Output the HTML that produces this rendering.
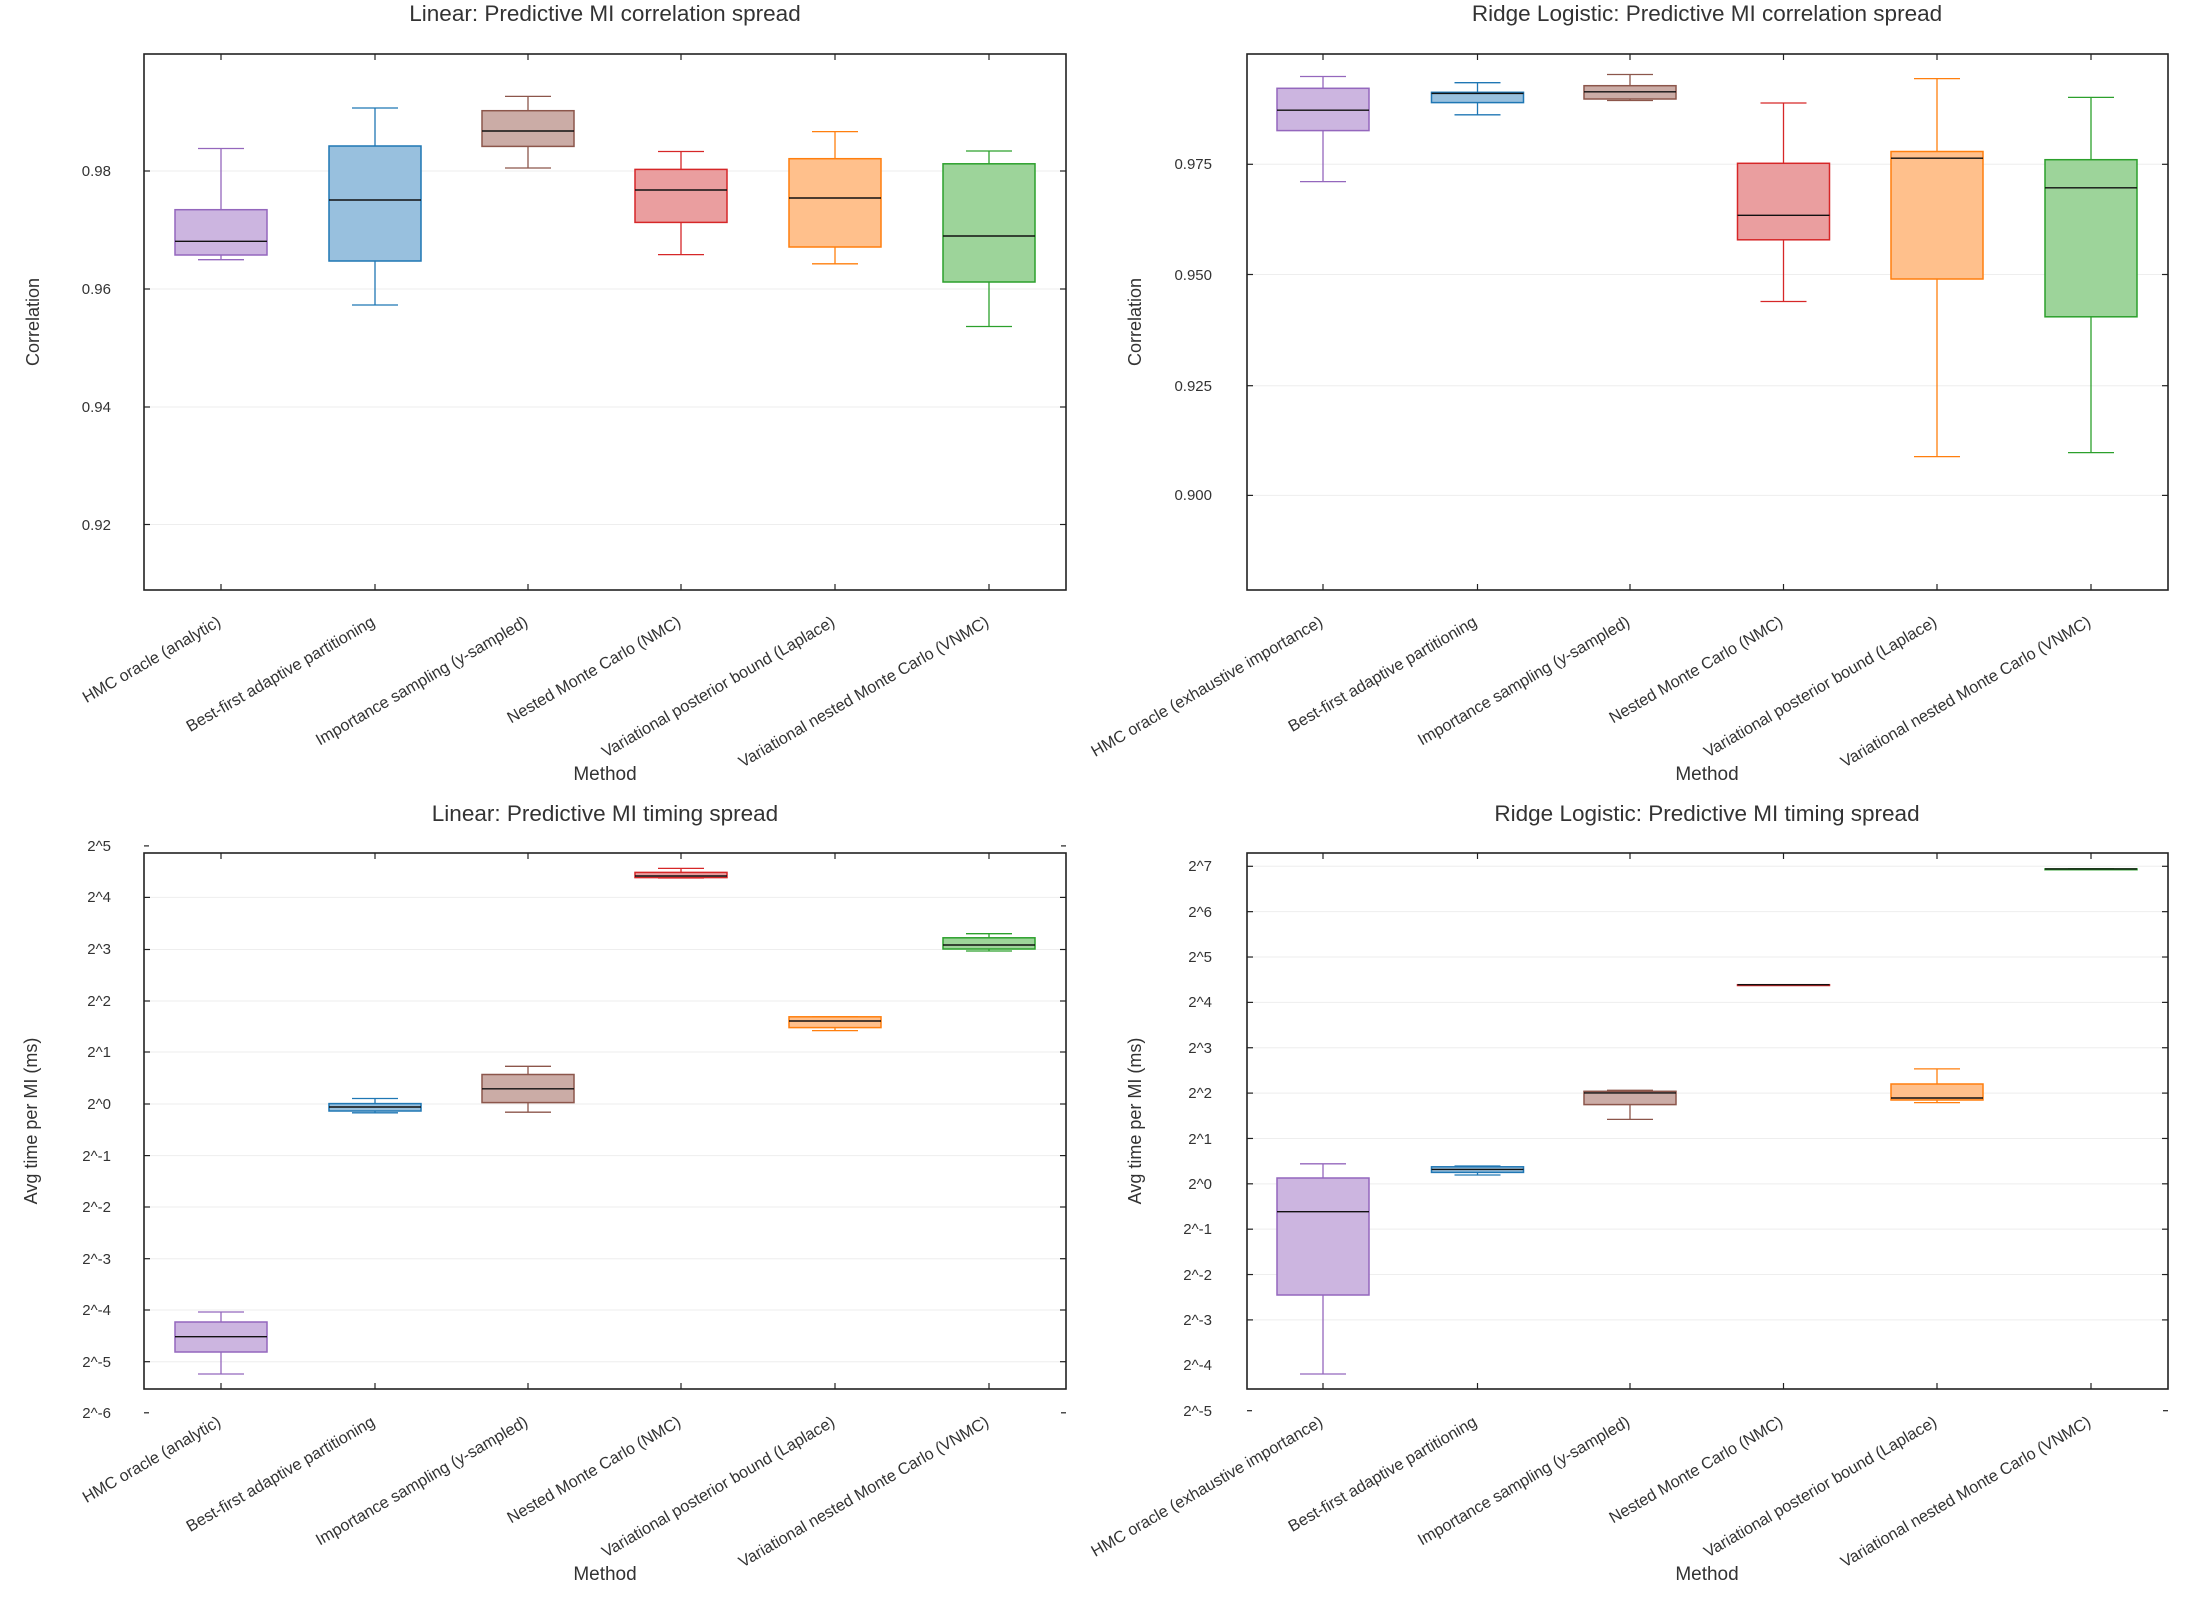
<!DOCTYPE html>
<html><head><meta charset="utf-8"><style>
html,body{margin:0;padding:0;background:#fff;}
svg{display:block;}
text{font-family:"Liberation Sans",sans-serif;fill:#333;}
</style></head><body>
<svg id="s" width="2200" height="1600" xmlns="http://www.w3.org/2000/svg">
<g id="g"></g>
<text x="605" y="21" font-size="22.5" text-anchor="middle">Linear: Predictive MI correlation spread</text>
<text x="1707" y="21" font-size="22.5" text-anchor="middle">Ridge Logistic: Predictive MI correlation spread</text>
<text x="605" y="821" font-size="22.5" text-anchor="middle">Linear: Predictive MI timing spread</text>
<text x="1707" y="821" font-size="22.5" text-anchor="middle">Ridge Logistic: Predictive MI timing spread</text>
<text x="605" y="780" font-size="19" text-anchor="middle">Method</text>
<text x="1707" y="780" font-size="19" text-anchor="middle">Method</text>
<text x="605" y="1580" font-size="19" text-anchor="middle">Method</text>
<text x="1707" y="1580" font-size="19" text-anchor="middle">Method</text>
<text transform="translate(39,322) rotate(-90)" font-size="18" text-anchor="middle">Correlation</text>
<text transform="translate(1141,322) rotate(-90)" font-size="18" text-anchor="middle">Correlation</text>
<text transform="translate(37,1121) rotate(-90)" font-size="18" text-anchor="middle">Avg time per MI (ms)</text>
<text transform="translate(1141,1121) rotate(-90)" font-size="18" text-anchor="middle">Avg time per MI (ms)</text>
<g font-size="15" text-anchor="end">
<text x="111" y="176">0.98</text><text x="111" y="294">0.96</text><text x="111" y="412">0.94</text><text x="111" y="530">0.92</text>
<text x="1212" y="169">0.975</text><text x="1212" y="280">0.950</text><text x="1212" y="391">0.925</text><text x="1212" y="500">0.900</text>
<text x="111" y="851">2^5</text><text x="111" y="902">2^4</text><text x="111" y="954">2^3</text><text x="111" y="1006">2^2</text><text x="111" y="1057">2^1</text><text x="111" y="1109">2^0</text><text x="111" y="1161">2^-1</text><text x="111" y="1212">2^-2</text><text x="111" y="1264">2^-3</text><text x="111" y="1315">2^-4</text><text x="111" y="1367">2^-5</text><text x="111" y="1418">2^-6</text>
<text x="1212" y="871">2^7</text><text x="1212" y="917">2^6</text><text x="1212" y="962">2^5</text><text x="1212" y="1007">2^4</text><text x="1212" y="1053">2^3</text><text x="1212" y="1098">2^2</text><text x="1212" y="1144">2^1</text><text x="1212" y="1189">2^0</text><text x="1212" y="1234">2^-1</text><text x="1212" y="1280">2^-2</text><text x="1212" y="1325">2^-3</text><text x="1212" y="1370">2^-4</text><text x="1212" y="1416">2^-5</text>
</g>
<g font-size="16.3" text-anchor="end">
<text transform="translate(222,625) rotate(-30)">HMC oracle (analytic)</text>
<text transform="translate(376,625) rotate(-30)">Best-first adaptive partitioning</text>
<text transform="translate(529,625) rotate(-30)">Importance sampling (y-sampled)</text>
<text transform="translate(682,625) rotate(-30)">Nested Monte Carlo (NMC)</text>
<text transform="translate(836,625) rotate(-30)">Variational posterior bound (Laplace)</text>
<text transform="translate(990,625) rotate(-30)">Variational nested Monte Carlo (VNMC)</text>
<text transform="translate(1324,625) rotate(-30)">HMC oracle (exhaustive importance)</text>
<text transform="translate(1478,625) rotate(-30)">Best-first adaptive partitioning</text>
<text transform="translate(1631,625) rotate(-30)">Importance sampling (y-sampled)</text>
<text transform="translate(1784,625) rotate(-30)">Nested Monte Carlo (NMC)</text>
<text transform="translate(1938,625) rotate(-30)">Variational posterior bound (Laplace)</text>
<text transform="translate(2092,625) rotate(-30)">Variational nested Monte Carlo (VNMC)</text>
<text transform="translate(222,1425) rotate(-30)">HMC oracle (analytic)</text>
<text transform="translate(376,1425) rotate(-30)">Best-first adaptive partitioning</text>
<text transform="translate(529,1425) rotate(-30)">Importance sampling (y-sampled)</text>
<text transform="translate(682,1425) rotate(-30)">Nested Monte Carlo (NMC)</text>
<text transform="translate(836,1425) rotate(-30)">Variational posterior bound (Laplace)</text>
<text transform="translate(990,1425) rotate(-30)">Variational nested Monte Carlo (VNMC)</text>
<text transform="translate(1324,1425) rotate(-30)">HMC oracle (exhaustive importance)</text>
<text transform="translate(1478,1425) rotate(-30)">Best-first adaptive partitioning</text>
<text transform="translate(1631,1425) rotate(-30)">Importance sampling (y-sampled)</text>
<text transform="translate(1784,1425) rotate(-30)">Nested Monte Carlo (NMC)</text>
<text transform="translate(1938,1425) rotate(-30)">Variational posterior bound (Laplace)</text>
<text transform="translate(2092,1425) rotate(-30)">Variational nested Monte Carlo (VNMC)</text>
</g>
</svg>
<script>
(function(){
var g=document.getElementById('g'),NS='http://www.w3.org/2000/svg';
function el(t,a){var e=document.createElementNS(NS,t);for(var k in a)e.setAttribute(k,a[k]);g.appendChild(e);return e;}
var C=[['#9467bd','#ccb5e0'],['#1f77b4','#98c0de'],['#8c564b','#cbaca6'],['#d62728','#ea9e9f'],['#ff7f0e','#ffc08c'],['#2ca02c','#9dd49a']];
var cL=[221,375,528,681,835,989],cR=[1323,1477.5,1630,1783.5,1937,2091];
var br=[];for(var k=0;k<11;k++)br.push(866.3+k*45.36);
var P=[
{x0:144,x1:1066,y0:54,y1:590,c:cL,gr:[171,289,407,524.5],out:[],
 b:[[148.5,209.7,241.3,255,259.7],[108,146,200,261,305],[96.4,110.7,131,146.4,168],[151.5,169.4,190,222.4,254.6],[131.6,158.7,198,247,263.8],[151,163.8,236,282,326.5]]},
{x0:1247,x1:2168,y0:54,y1:590,c:cR,gr:[164.3,274.5,385.7,495.4],out:[],
 b:[[76.5,88.3,110.2,130.6,181.6],[82.7,92.3,93.4,102.6,114.8],[74.5,85.7,91.8,99,100.5],[103,163.3,215.3,239.8,301.5],[78.6,151.5,158.2,279,456.6],[97.4,159.7,187.8,316.8,452.6]]},
{x0:144,x1:1066,y0:853,y1:1389,c:cL,gr:[897.4,949.5,1001,1052,1104,1155.6,1207,1258.7,1310,1361.7],out:[845.9,1412.8],
 b:[[1312,1322,1336.7,1352,1374],[1098.5,1103.6,1107,1111,1112.8],[1066.3,1074.5,1088.8,1102.6,1112.2],[868.4,872.4,876,877.6,878],[1016.8,1016.8,1021,1027.6,1030.6],[933.7,937.8,945,949,951]]},
{x0:1247,x1:2168,y0:853,y1:1389,c:cR,gr:br,out:[1410.7],
 b:[[1163.8,1178,1211.7,1295,1374],[1166,1166.8,1169.4,1172.4,1175],[1090.3,1091.3,1092.9,1104.6,1119.4],[984.7,984.7,984.7,984.7,984.7],[1068.9,1084,1098,1100,1102.6],[868.9,868.9,868.9,868.9,868.9]]}
];
P.forEach(function(p){
 p.gr.forEach(function(y){
  el('line',{x1:p.x0,x2:p.x1,y1:y,y2:y,stroke:'#eeeeee','stroke-width':1});
  el('line',{x1:p.x0,x2:p.x0+6,y1:y,y2:y,stroke:'#222','stroke-width':1.2});
  el('line',{x1:p.x1-6,x2:p.x1,y1:y,y2:y,stroke:'#222','stroke-width':1.2});
 });
 p.out.forEach(function(y){
  el('line',{x1:p.x0,x2:p.x0+5,y1:y,y2:y,stroke:'#222','stroke-width':1.2});
  el('line',{x1:p.x1-5,x2:p.x1,y1:y,y2:y,stroke:'#222','stroke-width':1.2});
 });
 p.c.forEach(function(x){
  el('line',{x1:x,x2:x,y1:p.y0,y2:p.y0+6,stroke:'#222','stroke-width':1.2});
  el('line',{x1:x,x2:x,y1:p.y1-6,y2:p.y1,stroke:'#222','stroke-width':1.2});
 });
 p.b.forEach(function(v,i){
  var x=p.c[i],s=C[i][0],f=C[i][1];
  el('line',{x1:x,x2:x,y1:v[0],y2:v[1],stroke:s,'stroke-width':1.3});
  el('line',{x1:x,x2:x,y1:v[3],y2:v[4],stroke:s,'stroke-width':1.3});
  el('line',{x1:x-23,x2:x+23,y1:v[0],y2:v[0],stroke:s,'stroke-width':1.3});
  el('line',{x1:x-23,x2:x+23,y1:v[4],y2:v[4],stroke:s,'stroke-width':1.3});
  el('rect',{x:x-46,y:v[1],width:92,height:Math.max(v[3]-v[1],0.8),fill:f,stroke:s,'stroke-width':1.5});
  el('line',{x1:x-46,x2:x+46,y1:v[2],y2:v[2],stroke:'#111','stroke-width':1.4});
 });
 el('rect',{x:p.x0,y:p.y0,width:p.x1-p.x0,height:p.y1-p.y0,fill:'none',stroke:'#222','stroke-width':1.6});
});
})();
</script>
</body></html>
